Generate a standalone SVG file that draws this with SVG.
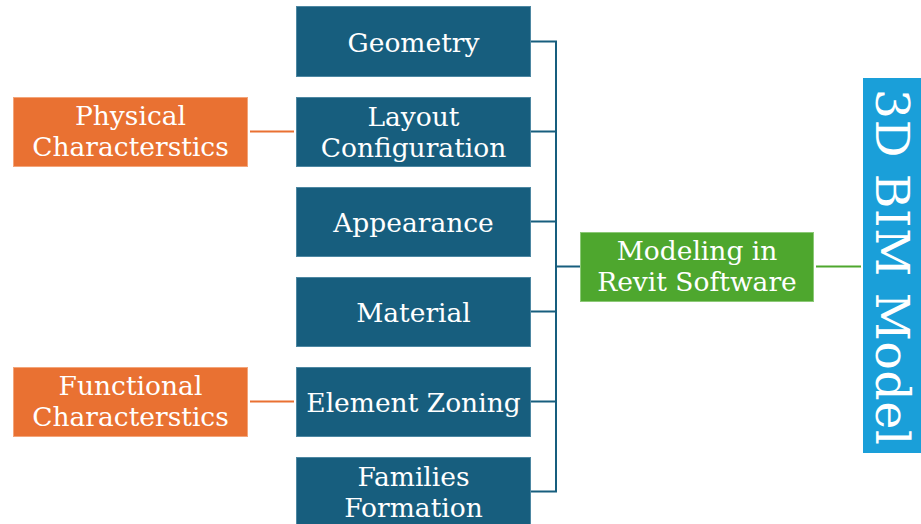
<svg xmlns="http://www.w3.org/2000/svg" width="921" height="524" viewBox="0 0 921 524">
<style>
.t{font-family:"DejaVu Serif","Liberation Serif",serif;font-size:26.5px;fill:#fff;text-anchor:middle}
.big{font-family:"DejaVu Serif","Liberation Serif",serif;font-size:47px;fill:#fff;text-anchor:middle}
.bb{fill:#175E7E;stroke:#4d87a2;stroke-width:1}
.ob{fill:#E97132;stroke:#f3a57a;stroke-width:1}
.gb{fill:#4EA72E;stroke:#8cc977;stroke-width:1}
.lb{fill:#1A9FD9}
.cb{fill:none;stroke:#175E7E;stroke-width:2}
.co{fill:none;stroke:#E97132;stroke-width:2}
.cg{fill:none;stroke:#4EA72E;stroke-width:2}
</style>
<rect width="921" height="524" fill="#fff"/>
<g id="connectors">
<path class="cb" d="M531 41.5H556M531 131.5H556M531 221.5H556M531 311.5H556M531 401.5H556M531 491.5H556M556 40.5V492.5M556 266.5H580"/>
<path class="co" d="M250 131.5H294M250 401.5H294"/>
<path class="cg" d="M816 266.5H861"/>
</g>
<g id="geometry"><rect class="bb" x="296.5" y="6.5" width="234" height="70"/><text class="t" x="413.5" y="52">Geometry</text></g>
<g id="layout"><rect class="bb" x="296.5" y="97.5" width="234" height="69"/><text class="t" x="413.5" y="126">Layout</text><text class="t" x="413.5" y="157">Configuration</text></g>
<g id="appearance"><rect class="bb" x="296.5" y="187.5" width="234" height="69"/><text class="t" x="413.5" y="232">Appearance</text></g>
<g id="material"><rect class="bb" x="296.5" y="277.5" width="234" height="69"/><text class="t" x="413.5" y="322">Material</text></g>
<g id="zoning"><rect class="bb" x="296.5" y="367.5" width="234" height="69"/><text class="t" x="413.5" y="412">Element Zoning</text></g>
<g id="families"><rect class="bb" x="296.5" y="457.5" width="234" height="80"/><text class="t" x="413.5" y="486">Families</text><text class="t" x="413.5" y="517">Formation</text></g>
<g id="physical"><rect class="ob" x="13.5" y="97.5" width="234" height="69"/><text class="t" x="130.5" y="125">Physical</text><text class="t" x="130.5" y="156">Characterstics</text></g>
<g id="functional"><rect class="ob" x="13.5" y="367.5" width="234" height="69"/><text class="t" x="130.5" y="395">Functional</text><text class="t" x="130.5" y="426">Characterstics</text></g>
<g id="modeling"><rect class="gb" x="580.5" y="232.5" width="233" height="69"/><text class="t" x="697" y="260">Modeling in</text><text class="t" x="697" y="291">Revit Software</text></g>
<g id="bim"><rect class="lb" x="863" y="78" width="70" height="375"/><text class="big" transform="translate(876,267) rotate(90)" textLength="356" lengthAdjust="spacing">3D BIM Model</text></g>
</svg>
